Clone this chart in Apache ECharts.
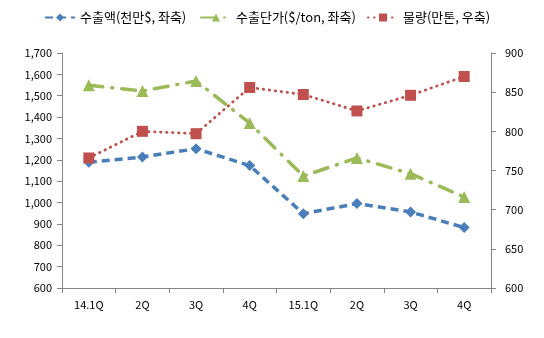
<!DOCTYPE html>
<html>
<head>
<meta charset="utf-8">
<script src="https://cdn.jsdelivr.net/npm/echarts@6/dist/echarts.min.js"></script>
<style>
  html, body { margin: 0; padding: 0; background: #fff; }
  #chart { width: 544px; height: 338px; }
</style>
</head>
<body>
<div id="chart"></div>
<script>
// Quarterly export figures
const quarters = ['14.1Q', '2Q', '3Q', '4Q', '15.1Q', '2Q', '3Q', '4Q'];
const exportValue = [1189, 1213, 1252, 1173, 948, 995, 956, 883];     // 천만$, left axis
const unitPrice = [1549, 1522, 1569, 1372, 1124, 1209, 1135, 1026];   // $/ton, left axis
const volume = [766, 800, 797, 856, 847, 826, 846, 870];              // 만톤, right axis

const seriesNames = ['수출액(천만$, 좌축)', '수출단가($/ton, 좌축)', '물량(만톤, 우축)'];
const FONT = '"Noto Sans CJK KR", "Noto Sans", sans-serif';
const AXIS_GRAY = '#868686';

// one legend box per series so each entry sits at its own horizontal spot
const legendLefts = [39, 195, 362];
const legends = seriesNames.map((name, i) => ({
  top: 6,
  left: legendLefts[i],
  itemWidth: 30,
  itemHeight: 10,
  textStyle: { fontFamily: FONT, fontSize: 13, color: '#000' },
  data: [name]
}));

const chart = echarts.init(document.getElementById('chart'), null, { renderer: 'canvas' });

chart.setOption({
  animation: false,
  backgroundColor: '#fff',
  textStyle: { fontFamily: FONT },
  legend: legends,
  grid: { left: 62, right: 53, top: 53, bottom: 50 },
  xAxis: {
    type: 'category',
    data: quarters,
    boundaryGap: true,
    axisLine: { lineStyle: { color: AXIS_GRAY, width: 1 } },
    axisTick: { show: true, length: 5, inside: false, lineStyle: { color: AXIS_GRAY } },
    axisLabel: { color: '#000', fontSize: 11, margin: 11, fontFamily: FONT }
  },
  yAxis: [
    {
      type: 'value',
      min: 600, max: 1700, interval: 100,
      position: 'left',
      splitLine: { show: false },
      axisLine: { show: true, lineStyle: { color: AXIS_GRAY } },
      axisTick: { show: true, length: 5, lineStyle: { color: AXIS_GRAY } },
      axisLabel: {
        color: '#000', fontSize: 11, margin: 10, fontFamily: FONT,
        formatter: v => v.toLocaleString('en-US')
      }
    },
    {
      type: 'value',
      min: 600, max: 900, interval: 50,
      position: 'right',
      splitLine: { show: false },
      axisLine: { show: true, lineStyle: { color: AXIS_GRAY } },
      axisTick: { show: true, length: 5, lineStyle: { color: AXIS_GRAY } },
      axisLabel: { color: '#000', fontSize: 11, margin: 14, fontFamily: FONT }
    }
  ],
  series: [
    {
      name: seriesNames[0],
      type: 'line',
      yAxisIndex: 0,
      data: exportValue,
      symbol: 'diamond',
      symbolSize: 11,
      itemStyle: { color: '#4a7ebb' },
      lineStyle: { color: '#4a7ebb', width: 3.5, type: [8, 5] }
    },
    {
      name: seriesNames[1],
      type: 'line',
      yAxisIndex: 0,
      data: unitPrice,
      symbol: 'triangle',
      symbolSize: 12,
      itemStyle: { color: '#9bbb59' },
      lineStyle: { color: '#9bbb59', width: 3.5, type: [14, 9, 1, 9], cap: 'round' }
    },
    {
      name: seriesNames[2],
      type: 'line',
      yAxisIndex: 1,
      data: volume,
      symbol: 'rect',
      symbolSize: 11,
      itemStyle: { color: '#c0504d' },
      lineStyle: { color: '#c0504d', width: 2.8, type: [0.5, 5.5], cap: 'round' }
    }
  ]
});
</script>
</body>
</html>
